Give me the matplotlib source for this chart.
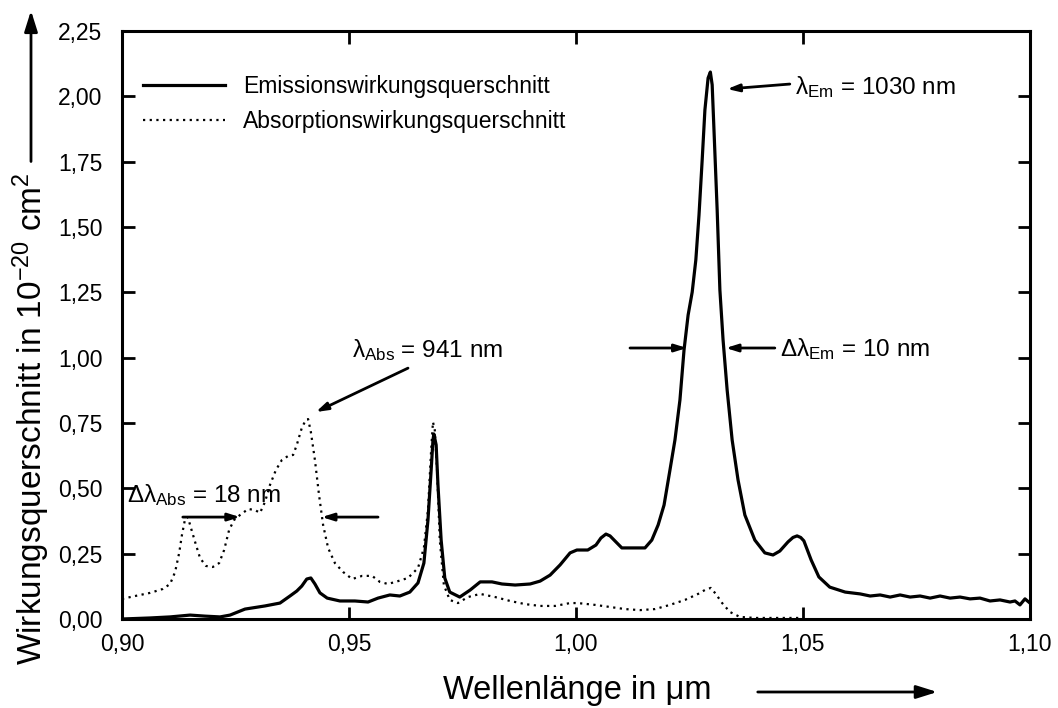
import numpy as np
import matplotlib
matplotlib.use('Agg')
import matplotlib.pyplot as plt
from matplotlib.ticker import FuncFormatter, MultipleLocator

plt.rcParams['font.family'] = ['Liberation Sans', 'DejaVu Sans']
plt.rcParams['mathtext.fontset'] = 'custom'
plt.rcParams['mathtext.rm'] = 'Liberation Sans'
plt.rcParams['mathtext.it'] = 'Liberation Sans:italic'

# Emissionswirkungsquerschnitt (um, 1e-20 cm^2)
em_wl = [0.9000, 0.9062, 0.9106, 0.9150, 0.9183, 0.9216, 0.9238, 0.9271, 0.9315, 0.9348,
         0.9370, 0.9385, 0.9396, 0.9407, 0.9416, 0.9425, 0.9436, 0.9452, 0.9480, 0.9513,
         0.9542, 0.9564, 0.9590, 0.9612, 0.9634, 0.9652, 0.9665, 0.9674, 0.9681, 0.9685,
         0.9687, 0.9692, 0.9696, 0.9703, 0.9711, 0.9722, 0.9744, 0.9767, 0.9789, 0.9815,
         0.9837, 0.9866, 0.9899, 0.9921, 0.9943, 0.9965, 0.9987, 1.0002, 1.0026, 1.0044,
         1.0055, 1.0066, 1.0075, 1.0084, 1.0101, 1.0130, 1.0152, 1.0167, 1.0181, 1.0194,
         1.0207, 1.0218, 1.0229, 1.0238, 1.0247, 1.0256, 1.0264, 1.0271, 1.0278, 1.0284,
         1.0291, 1.0296, 1.0300, 1.0304, 1.0311, 1.0317, 1.0324, 1.0333, 1.0344, 1.0357,
         1.0372, 1.0394, 1.0416, 1.0434, 1.0449, 1.0467, 1.0478, 1.0487, 1.0495, 1.0502,
         1.0518, 1.0535, 1.0559, 1.0593, 1.0626, 1.0648, 1.0670, 1.0692, 1.0714, 1.0736,
         1.0758, 1.0780, 1.0802, 1.0824, 1.0846, 1.0868, 1.0890, 1.0912, 1.0934, 1.0956,
         1.0967, 1.0978, 1.0989, 1.1000]
em_cs = [0.000, 0.004, 0.008, 0.015, 0.011, 0.008, 0.015, 0.038, 0.050, 0.061,
         0.088, 0.107, 0.126, 0.153, 0.157, 0.134, 0.100, 0.080, 0.069, 0.069,
         0.065, 0.080, 0.092, 0.088, 0.103, 0.138, 0.214, 0.379, 0.570, 0.685,
         0.708, 0.666, 0.513, 0.302, 0.157, 0.103, 0.084, 0.111, 0.142, 0.142,
         0.134, 0.130, 0.134, 0.145, 0.168, 0.207, 0.253, 0.264, 0.264, 0.283,
         0.310, 0.325, 0.318, 0.302, 0.272, 0.272, 0.272, 0.302, 0.360, 0.436,
         0.570, 0.685, 0.838, 1.029, 1.163, 1.251, 1.374, 1.546, 1.757, 1.948,
         2.070, 2.093, 2.044, 1.871, 1.565, 1.259, 1.068, 0.876, 0.685, 0.532,
         0.398, 0.302, 0.253, 0.245, 0.260, 0.295, 0.312, 0.318, 0.312, 0.299,
         0.226, 0.161, 0.122, 0.103, 0.096, 0.088, 0.092, 0.084, 0.092, 0.084,
         0.088, 0.080, 0.088, 0.080, 0.084, 0.077, 0.080, 0.069, 0.073, 0.065,
         0.069, 0.054, 0.077, 0.061]

# Absorptionswirkungsquerschnitt
abs_wl = [0.9000, 0.9029, 0.9062, 0.9090, 0.9106, 0.9117, 0.9126, 0.9132, 0.9139, 0.9145,
          0.9152, 0.9161, 0.9172, 0.9185, 0.9200, 0.9214, 0.9225, 0.9236, 0.9247, 0.9260,
          0.9278, 0.9293, 0.9304, 0.9315, 0.9326, 0.9339, 0.9352, 0.9366, 0.9377, 0.9385,
          0.9396, 0.9405, 0.9410, 0.9416, 0.9425, 0.9434, 0.9443, 0.9454, 0.9469, 0.9487,
          0.9507, 0.9529, 0.9551, 0.9568, 0.9586, 0.9608, 0.9630, 0.9652, 0.9665, 0.9674,
          0.9681, 0.9685, 0.9689, 0.9694, 0.9700, 0.9709, 0.9722, 0.9740, 0.9762, 0.9789,
          0.9822, 0.9855, 0.9888, 0.9921, 0.9954, 0.9987, 1.0004, 1.0042, 1.0075, 1.0108,
          1.0141, 1.0174, 1.0207, 1.0240, 1.0269, 1.0284, 1.0297, 1.0308, 1.0322, 1.0339,
          1.0361, 1.0394, 1.0438, 1.0493]
abs_cs = [0.077, 0.088, 0.100, 0.115, 0.134, 0.180, 0.253, 0.321, 0.383, 0.390,
          0.348, 0.295, 0.233, 0.203, 0.199, 0.214, 0.264, 0.341, 0.379, 0.398,
          0.421, 0.417, 0.406, 0.448, 0.513, 0.570, 0.608, 0.624, 0.628, 0.666,
          0.731, 0.762, 0.765, 0.716, 0.608, 0.475, 0.360, 0.272, 0.214, 0.180,
          0.153, 0.165, 0.165, 0.142, 0.134, 0.145, 0.157, 0.195, 0.272, 0.417,
          0.647, 0.754, 0.723, 0.570, 0.302, 0.130, 0.073, 0.061, 0.084, 0.096,
          0.084, 0.069, 0.057, 0.050, 0.050, 0.061, 0.061, 0.054, 0.046, 0.038,
          0.034, 0.038, 0.054, 0.073, 0.096, 0.111, 0.119, 0.096, 0.061, 0.027,
          0.008, 0.004, 0.004, 0.004]

fig = plt.figure(figsize=(10.58, 7.08), dpi=100)
ax = fig.add_axes([0.1153, 0.1257, 0.8582, 0.8305])

ax.plot(em_wl, em_cs, color='black', lw=2.3, label='Emissionswirkungsquerschnitt')
ax.plot(abs_wl, abs_cs, color='black', lw=1.6, linestyle=(0, (1, 2)),
        label='Absorptionswirkungsquerschnitt')

ax.set_xlim(0.90, 1.10)
ax.set_ylim(0.0, 2.25)
ax.xaxis.set_major_locator(MultipleLocator(0.05))
ax.yaxis.set_major_locator(MultipleLocator(0.25))
comma = FuncFormatter(lambda v, p: f'{v:.2f}'.replace('.', ','))
ax.xaxis.set_major_formatter(comma)
ax.yaxis.set_major_formatter(comma)
ax.tick_params(direction='in', top=True, right=True, length=9, width=2,
               labelsize=16.5)
ax.tick_params(axis='x', pad=10)
ax.tick_params(axis='y', pad=14)
for s in ax.spines.values():
    s.set_linewidth(2.2)

ax.legend(loc='upper left', bbox_to_anchor=(0.0, 0.96), frameon=False,
          fontsize=16.5, handlelength=3.6, handletextpad=0.8, labelspacing=0.5)

arrow = dict(arrowstyle='-|>,head_length=0.7,head_width=0.22', lw=2,
             color='black', shrinkA=0, shrinkB=0)

# lambda_Em
ax.annotate('', xy=(1.0333, 2.028), xytext=(1.0471, 2.047), arrowprops=arrow)
ax.text(1.0482, 2.036, 'λ$_{\\mathrm{Em}}$ = 1030 nm', fontsize=17.5, va='center')

# delta lambda_Em
ax.annotate('', xy=(1.0244, 1.037), xytext=(1.0119, 1.037), arrowprops=arrow)
ax.annotate('', xy=(1.0330, 1.037), xytext=(1.0438, 1.037), arrowprops=arrow)
ax.text(1.0449, 1.033, 'Δλ$_{\\mathrm{Em}}$ = 10 nm', fontsize=17.5, va='center')

# lambda_Abs
ax.annotate('', xy=(0.9427, 0.792), xytext=(0.9630, 0.960), arrowprops=arrow)
ax.text(0.9507, 1.03, 'λ$_{\\mathrm{Abs}}$ = 941 nm', fontsize=17.5, va='center')

# delta lambda_Abs
ax.annotate('', xy=(0.9260, 0.39), xytext=(0.9134, 0.39), arrowprops=arrow)
ax.annotate('', xy=(0.9440, 0.39), xytext=(0.9564, 0.39), arrowprops=arrow)
ax.text(0.9011, 0.475, 'Δλ$_{\\mathrm{Abs}}$ = 18 nm', fontsize=17.5, va='center')

# axis labels with arrows
fig.text(0.0293, 0.0607, 'Wirkungsquerschnitt in 10$^{\\mathrm{-20}}$ cm$^{\\mathrm{2}}$',
         rotation=90, fontsize=24, ha='center', va='bottom')
fig.add_artist(matplotlib.patches.FancyArrowPatch(
    (0.0293, 0.768), (0.0293, 0.989), transform=fig.transFigure,
    arrowstyle='-|>,head_length=0.7,head_width=0.22', lw=2, color='black',
    mutation_scale=18))
fig.text(0.546, 0.0254, 'Wellenlänge in μm', fontsize=23.5, ha='center', va='center')
fig.add_artist(matplotlib.patches.FancyArrowPatch(
    (0.7136, 0.0226), (0.8885, 0.0226), transform=fig.transFigure,
    arrowstyle='-|>,head_length=0.7,head_width=0.22', lw=2, color='black',
    mutation_scale=18))

fig.savefig('out.png', dpi=100)
